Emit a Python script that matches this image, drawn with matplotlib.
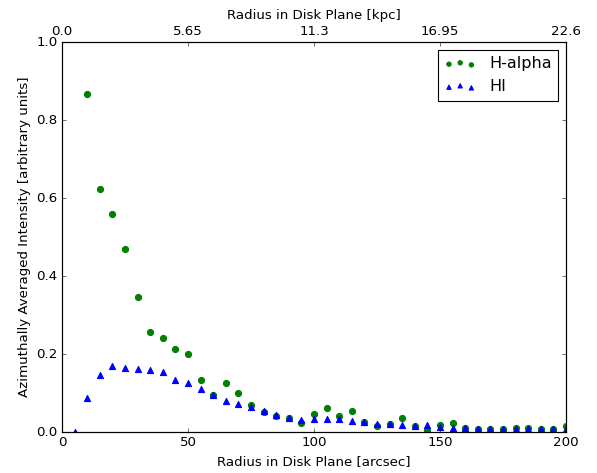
import matplotlib
matplotlib.use('Agg')
import matplotlib.pyplot as plt

plt.style.use('classic')

# radius bins in arcsec
radius_ha = [10, 15, 20, 25, 30, 35, 40, 45, 50, 55, 60, 65, 70, 75, 80, 85, 90, 95,
             100, 105, 110, 115, 120, 125, 130, 135, 140, 145, 150, 155, 160, 165,
             170, 175, 180, 185, 190, 195, 200]
halpha = [0.867, 0.623, 0.559, 0.469, 0.346, 0.256, 0.241, 0.213, 0.200, 0.133,
          0.095, 0.126, 0.100, 0.069, 0.051, 0.041, 0.036, 0.023,
          0.046, 0.061, 0.041, 0.053, 0.026, 0.015, 0.020, 0.036, 0.015, 0.005,
          0.018, 0.023, 0.011, 0.007, 0.008, 0.008, 0.009, 0.009, 0.008, 0.008, 0.015]

radius_hi = [5, 10, 15, 20, 25, 30, 35, 40, 45, 50, 55, 60, 65, 70, 75, 80, 85, 90, 95,
             100, 105, 110, 115, 120, 125, 130, 135, 140, 145, 150, 155, 160, 165,
             170, 175, 180, 185, 190, 195, 200]
hi = [0.0, 0.087, 0.146, 0.169, 0.164, 0.162, 0.159, 0.154, 0.133, 0.126,
      0.110, 0.095, 0.079, 0.072, 0.064, 0.054, 0.044, 0.036, 0.031,
      0.033, 0.034, 0.033, 0.028, 0.026, 0.021, 0.020, 0.018, 0.015, 0.018,
      0.013, 0.010, 0.010, 0.008, 0.007, 0.007, 0.007, 0.007, 0.007, 0.007, 0.007]

kpc_ticks = [0, 50, 100, 150, 200]
kpc_labels = ['0.0', '5.65', '11.3', '16.95', '22.6']

fig = plt.figure(figsize=(597 / 80, 473 / 80), dpi=80)
ax = fig.add_axes([62 / 597, 1 - 432 / 473, 504 / 597, 390 / 473])

ax.scatter(radius_ha, halpha, s=30, c='g', edgecolors='g', marker='o', label='H-alpha')
ax.scatter(radius_hi, hi, s=30, c='b', edgecolors='b', marker='^', label='HI')

ax.set_xlim(0, 200)
ax.set_ylim(0, 1.0)
ax.set_xlabel('Radius in Disk Plane [arcsec]')
ax.set_ylabel('Azimuthally Averaged Intensity [arbitrary units]')
ax.legend(loc='upper right', markerscale=0.7)

top = ax.twiny()
top.set_xlim(ax.get_xlim())
top.set_xticks(kpc_ticks)
top.set_xticklabels(kpc_labels)
top.set_xlabel('Radius in Disk Plane [kpc]')

fig.savefig('out.png', dpi=80)
